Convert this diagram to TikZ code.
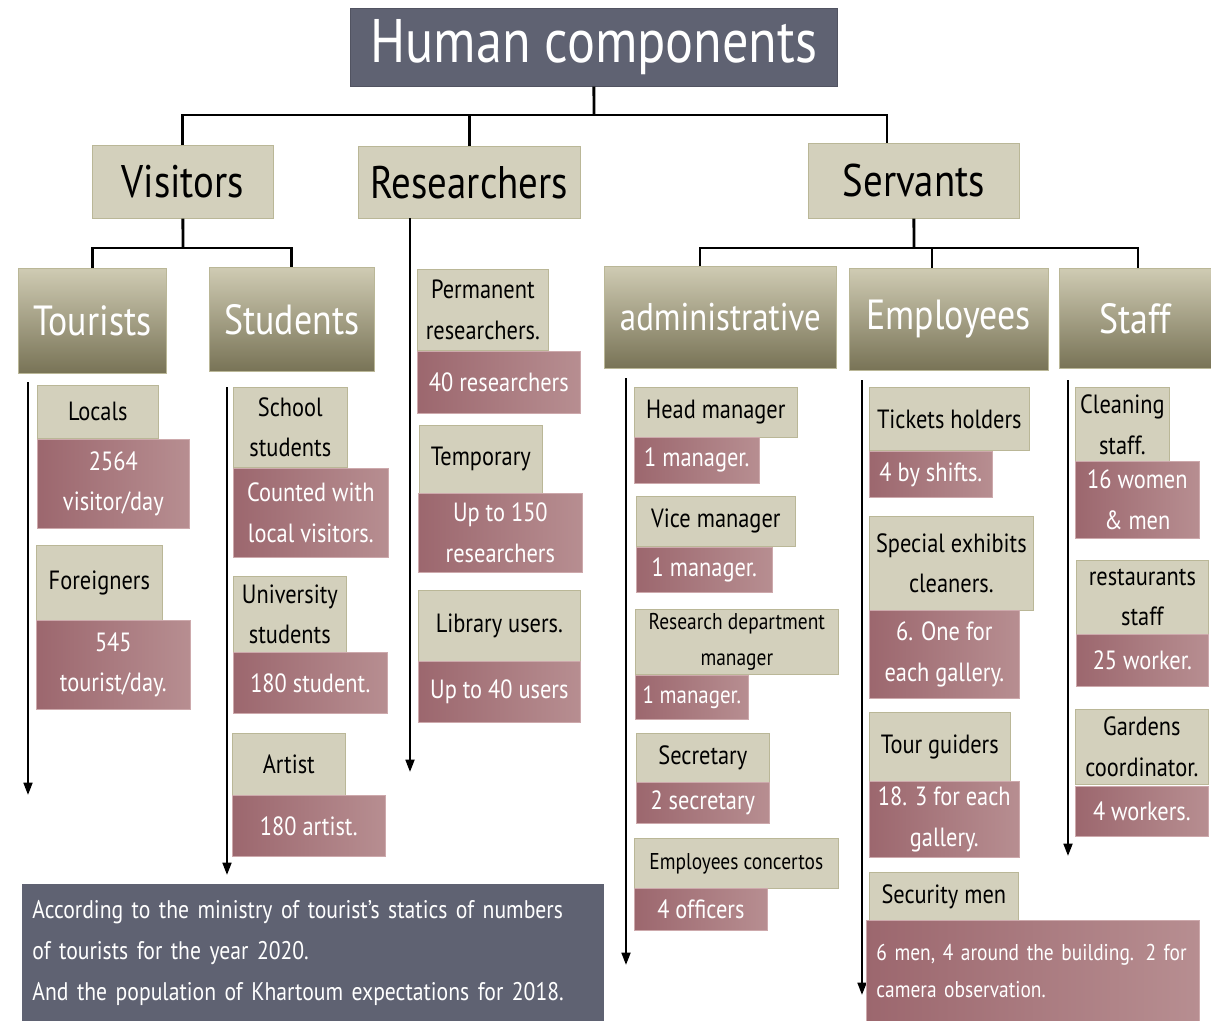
\documentclass[tikz,border=0pt]{standalone}
\usepackage{fontspec}
\setmainfont{PT Sans}[FakeStretch=0.85]
\usepackage{xcolor}
\usepackage{tikz}
\usetikzlibrary{arrows.meta}

\definecolor{slate}{HTML}{5F6272}
\definecolor{beige}{HTML}{D3D0BC}
\definecolor{beigeD}{HTML}{BAB797}
\definecolor{oliveT}{HTML}{CFCBB3}
\definecolor{oliveB}{HTML}{787356}
\definecolor{pinkL}{HTML}{9C676E}
\definecolor{pinkR}{HTML}{B78E91}
\definecolor{pinkD}{HTML}{CDA9AC}

\newcommand\titlesize{\fontsize{35}{40}\selectfont}
\newcommand\catsize{\fontsize{26}{30}\selectfont}
\newcommand\subsize{\fontsize{24}{28}\selectfont}
\newcommand\leafsize{\fontsize{15}{23}\selectfont}
\newcommand\smallleaf{\fontsize{13}{20}\selectfont}

\begin{document}
\begin{tikzpicture}[x=0.02cm,y=-0.02cm,
    wh/.style 2 args={anchor=north west,minimum width=#1*0.02cm,minimum height=#2*0.02cm,inner sep=1pt},
    head/.style={fill=slate,draw=slate!85!black,text=white,font=\titlesize},
    cat/.style={fill=beige,draw=beigeD,font=\catsize},
    sub/.style={top color=oliveT,bottom color=oliveB,draw=beigeD,text=white,font=\subsize},
    lbl/.style={fill=beige,draw=beigeD,align=center,font=\leafsize},
    val/.style={left color=pinkL,right color=pinkR,draw=pinkD,text=white,align=center,font=\leafsize},
    note/.style={fill=slate,text=white,align=left,inner xsep=0.2cm,font=\fontsize{14.5}{23.5}\selectfont},
    link/.style={line width=1.6pt},
    arr/.style={line width=1.3pt,-{Triangle[width=5pt,length=7pt]}}]
  \useasboundingbox (0,0) rectangle (1211,1021);

  % top levels
  \node[head,wh={487}{78}] (title) at (350,8) {Human components};
  \node[cat,wh={181}{73}] (vis) at (92,145) {Visitors};
  \node[cat,wh={222}{72}] (res) at (358,146) {Researchers};
  \node[cat,wh={211}{75}] (serv) at (808,143) {Servants};

  \node[sub,wh={148}{105}] (tour) at (18,268) {Tourists};
  \node[sub,wh={165}{104}] (stud) at (209,267) {Students};
  \node[sub,wh={232}{102},font=\fontsize{22}{26}\selectfont] (admin) at (604,266) {administrative};
  \node[sub,wh={199}{102}] (empl) at (849,268) {Employees};
  \node[sub,wh={152}{100}] (staff) at (1059,268) {Staff};

  \coordinate (hub) at (594,115);
  \coordinate (servin) at (887,143);
  \coordinate (vhub) at (183,248);
  \coordinate (shub) at (914,248);
  \coordinate (adminin) at (700,266);
  \coordinate (emplin) at (932,268);
  \coordinate (staffin) at (1138,268);

  \draw[link] (title.south) -- (hub);
  \draw[link] (vis.north) |- (hub) -| (servin);
  \draw[link] (res.north) -- (res.north |- hub);
  \draw[link] (vis.south) -- (vhub);
  \draw[link] (tour.north) |- (vhub) -| (stud.north);
  \draw[link] (serv.south) -- (shub);
  \draw[link] (adminin) |- (shub) -| (staffin);
  \draw[link] (emplin) -- (emplin |- shub);

  % column arrows
  \coordinate (tourA) at (28,382);   \coordinate (tourB) at (28,795);
  \coordinate (studA) at (227,387);  \coordinate (studB) at (227,875);
  \coordinate (resA) at (410,218);   \coordinate (resB) at (410,772);
  \coordinate (adminA) at (626,378); \coordinate (adminB) at (626,965);
  \coordinate (emplA) at (862,380);  \coordinate (emplB) at (862,995);
  \coordinate (staffA) at (1068,380);\coordinate (staffB) at (1068,856);
  \draw[arr] (tourA) -- (tourB);
  \draw[arr] (studA) -- (studB);
  \draw[arr] (resA) -- (resB);
  \draw[arr] (adminA) -- (adminB);
  \draw[arr] (emplA) -- (emplB);
  \draw[arr] (staffA) -- (staffB);

  % tourists
  \node[lbl,wh={121}{53}] (loc) at (37,385) {Locals};
  \node[val,wh={152}{89}] (locv) at (37,439) {2564\\visitor/day};
  \node[lbl,wh={126}{75}] (for) at (36,545) {Foreigners};
  \node[val,wh={154}{89}] (forv) at (36,620) {545\\tourist/day.};

  % students
  \node[lbl,wh={114}{80}] (sch) at (233,387) {School\\students};
  \node[val,wh={155}{89}] (schv) at (233,468) {Counted with\\local visitors.};
  \node[lbl,wh={113}{76}] (uni) at (233,576) {University\\students};
  \node[val,wh={154}{61}] (univ) at (233,652) {180 student.};
  \node[lbl,wh={113}{62}] (art) at (232,733) {Artist};
  \node[val,wh={153}{61}] (artv) at (232,795) {180 artist.};

  % researchers
  \node[lbl,wh={131}{81}] (perm) at (417,269) {Permanent\\researchers.};
  \node[val,wh={163}{62}] (permv) at (417,351) {40 researchers};
  \node[lbl,wh={123}{68}] (temp) at (419,425) {Temporary};
  \node[val,wh={164}{79}] (tempv) at (418,493) {Up to 150\\researchers};
  \node[lbl,wh={162}{71}] (lib) at (418,590) {Library users.};
  \node[val,wh={162}{61}] (libv) at (418,661) {Up to 40 users};

  % administrative
  \node[lbl,wh={163}{50}] (headm) at (634,387) {Head manager};
  \node[val,wh={125}{46}] (headv) at (634,437) {1 manager.};
  \node[lbl,wh={159}{50}] (vice) at (636,496) {Vice manager};
  \node[val,wh={136}{45}] (vicev) at (636,547) {1 manager.};
  \node[lbl,wh={203}{65},font=\smallleaf] (rdm) at (635,609) {Research department\\manager};
  \node[val,wh={113}{44},font=\fontsize{14}{20}\selectfont] (rdmv) at (635,675) {1 manager.};
  \node[lbl,wh={133}{49}] (sec) at (636,733) {Secretary};
  \node[val,wh={133}{41}] (secv) at (636,782) {2 secretary};
  \node[lbl,wh={204}{50},font=\smallleaf] (eco) at (634,838) {Employees concertos};
  \node[val,wh={133}{42}] (ecov) at (634,888) {4 officers};

  % employees
  \node[lbl,wh={160}{63}] (tick) at (869,387) {Tickets holders};
  \node[val,wh={123}{46}] (tickv) at (869,451) {4 by shifts.};
  \node[lbl,wh={164}{94}] (spec) at (869,516) {Special exhibits\\cleaners.};
  \node[val,wh={150}{88}] (specv) at (869,610) {6. One for\\each gallery.};
  \node[lbl,wh={141}{69}] (tg) at (869,712) {Tour guiders};
  \node[val,wh={150}{76}] (tgv) at (869,781) {18. 3 for each\\gallery.};
  \node[lbl,wh={149}{48}] (secm) at (869,872) {Security men};
  \node[val,wh={333}{101},align=left,inner xsep=0.2cm,text width=6.26cm,font=\fontsize{13}{21}\selectfont] (secmv) at (866,920) {6 men, 4 around the building. 2 for\\camera observation.};

  % staff
  \node[lbl,wh={94}{75}] (clean) at (1075,387) {Cleaning\\staff.};
  \node[val,wh={124}{77}] (cleanv) at (1075,461) {16 women\\\& men};
  \node[lbl,wh={132}{74}] (rest) at (1076,560) {restaurants\\staff};
  \node[val,wh={132}{52}] (restv) at (1076,634) {25 worker.};
  \node[lbl,wh={133}{75}] (gard) at (1075,709) {Gardens\\coordinator.};
  \node[val,wh={133}{50}] (gardv) at (1075,786) {4 workers.};

  % note
  \node[note,wh={582}{137},inner xsep=0.2cm,text width=11.24cm] (src) at (22,884) {According to the ministry of tourist's statics of numbers\\of tourists for the year 2020.\\And the population of Khartoum expectations for 2018.};
\end{tikzpicture}
\end{document}
